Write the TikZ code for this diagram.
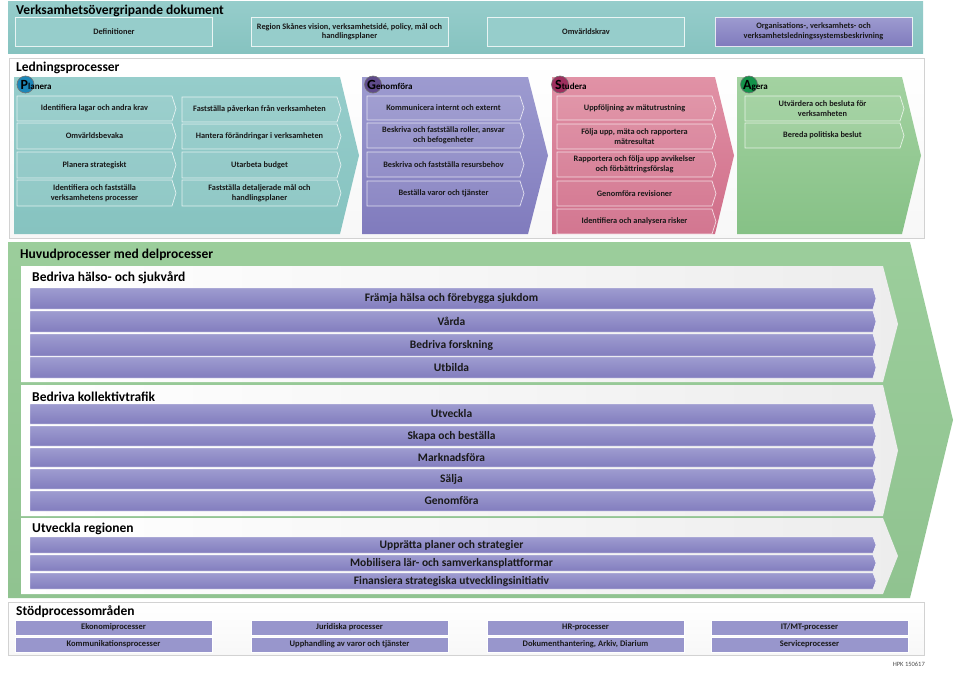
\documentclass[tikz,border=0pt]{standalone}
\usepackage{fontspec}
\setmainfont{Carlito}
\definecolor{teal1}{RGB}{150,205,203}
\definecolor{teal2}{RGB}{134,195,192}
\definecolor{pur1}{RGB}{157,155,208}
\definecolor{pur2}{RGB}{128,123,189}
\definecolor{pink1}{RGB}{225,146,166}
\definecolor{pink2}{RGB}{207,108,136}
\definecolor{grn1}{RGB}{163,210,161}
\definecolor{grn2}{RGB}{134,193,134}
\definecolor{hgrn}{RGB}{150,203,150}
\definecolor{barT}{RGB}{158,156,208}
\definecolor{barB}{RGB}{130,125,190}
\definecolor{stodc}{RGB}{152,150,204}
\definecolor{cP}{RGB}{28,135,184}
\definecolor{cG}{RGB}{95,75,139}
\definecolor{cS}{RGB}{158,47,94}
\definecolor{cA}{RGB}{20,147,74}
% name, path style, text style, x1, y1, x2, y2, tip, text
\newcommand\ArrBox[9]{%
  \path[#2] (#4,#5) -- ({#6-#8},#5) -- (#6,{(#5+#7)/2}) -- ({#6-#8},#7) -- (#4,#7) -- cycle;
  \node[#3] (#1) at ({(#4+#6-#8)/2},{(#5+#7)/2}) {#9};
}
\begin{document}
\begin{tikzpicture}[x=1pt,y=-1pt,
  sectitle/.style={font=\bfseries\fontsize{13.5}{15}\selectfont, anchor=west, inner sep=0},
  smalltxt/.style={font=\bfseries\fontsize{8.3}{9.6}\selectfont, align=center, inner sep=0, text=black!90},
  bartxt/.style={font=\bfseries\fontsize{11.5}{13}\selectfont, inner sep=0, text=black!90},
  inbox/.style={draw=white, draw opacity=0.75, line width=0.7pt, fill=white, fill opacity=0.07},
  bar/.style={top color=barT, bottom color=barB, draw=white, line width=0.4pt},
  topbox/.style={draw=white, draw opacity=0.8, line width=0.8pt, fill=teal1, minimum height=29pt,
    minimum width=197pt, inner sep=0, align=center, font=\bfseries\fontsize{8.3}{9.6}\selectfont, text=black!90},
  stodbox/.style={fill=stodc, draw=white, line width=0.5pt, minimum height=15pt, minimum width=197pt,
    inner sep=0, font=\bfseries\fontsize{8.5}{10}\selectfont, text=black!90},
  letcirc/.style={circle, minimum size=17pt, inner sep=0, draw=black!55, line width=0.6pt},
  lettitle/.style={anchor=base west, inner sep=0, font=\bfseries},
]
\useasboundingbox (0,0) rectangle (954,675);

% ---------- Verksamhetsövergripande dokument ----------
\fill[top color=teal1, bottom color=teal2] (8,1) rectangle (923,53);
\node[sectitle] (vo) at (16,11) {Verksamhetsövergripande dokument};
\node[topbox] (def) at (114,31.5) {Definitioner};
\node[topbox] (reg) at (349.5,31.5) {Region Skånes vision, verksamhetsidé, policy, mål och\\handlingsplaner};
\node[topbox] (omv) at (586,31.5) {Omvärldskrav};
\node[topbox, top color=pur1, bottom color=pur2] (org) at (813.5,31.5) {Organisations-, verksamhets- och\\verksamhetsledningssystemsbeskrivning};

% ---------- Ledningsprocesser ----------
\path[draw=gray!35, top color=white, bottom color=gray!6] (9,58) rectangle (924,238);
\node[sectitle] (lp) at (16,68) {Ledningsprocesser};

\path[top color=teal1, bottom color=teal2] (14,77) -- (340,77) -- (359,155.5) -- (340,234) -- (14,234) -- cycle;
\path[top color=pur1, bottom color=pur2] (362,77) -- (528,77) -- (548,155.5) -- (528,234) -- (362,234) -- cycle;
\path[top color=pink1, bottom color=pink2] (552,77) -- (715,77) -- (734,155.5) -- (715,234) -- (552,234) -- cycle;
\path[top color=grn1, bottom color=grn2] (737,77) -- (902,77) -- (921,155.5) -- (902,234) -- (737,234) -- cycle;

\node[letcirc, fill=cP] (pc) at (25.5,84.5) {};
\node[lettitle] (pt) at (20.5,89.5) {\fontsize{14}{14}\selectfont P\fontsize{9}{9}\selectfont lanera};
\node[letcirc, fill=cG] (gc) at (373,84.5) {};
\node[lettitle] (gt) at (367,89.5) {\fontsize{14}{14}\selectfont G\fontsize{9}{9}\selectfont enomföra};
\node[letcirc, fill=cS] (sc) at (560,84.5) {};
\node[lettitle] (st) at (555,89.5) {\fontsize{14}{14}\selectfont S\fontsize{9}{9}\selectfont tudera};
\node[letcirc, fill=cA] (ac) at (749,84.5) {};
\node[lettitle] (at) at (743,89.5) {\fontsize{14}{14}\selectfont A\fontsize{9}{9}\selectfont gera};

% Planera
\ArrBox{p1}{inbox}{smalltxt}{17}{96}{176}{121}{4}{Identifiera lagar och andra krav}
\ArrBox{p2}{inbox}{smalltxt}{17}{123}{176}{149}{4}{Omvärldsbevaka}
\ArrBox{p3}{inbox}{smalltxt}{17}{152}{176}{178}{4}{Planera strategiskt}
\ArrBox{p4}{inbox}{smalltxt}{17}{180}{176}{206}{4}{Identifiera och fastställa\\verksamhetens processer}
\ArrBox{p5}{inbox}{smalltxt}{182}{97}{341}{122}{4}{Fastställa påverkan från verksamheten}
\ArrBox{p6}{inbox}{smalltxt}{182}{124}{341}{149}{4}{Hantera förändringar i verksamheten}
\ArrBox{p7}{inbox}{smalltxt}{182}{152}{341}{178}{4}{Utarbeta budget}
\ArrBox{p8}{inbox}{smalltxt}{182}{180}{341}{206}{4}{Fastställa detaljerade mål och\\handlingsplaner}
% Genomföra
\ArrBox{g1}{inbox}{smalltxt}{367}{96}{524}{120}{4}{Kommunicera internt och externt}
\ArrBox{g2}{inbox}{smalltxt}{367}{123}{524}{148}{4}{Beskriva och fastställa roller, ansvar\\och befogenheter}
\ArrBox{g3}{inbox}{smalltxt}{367}{152}{524}{177}{4}{Beskriva och fastställa resursbehov}
\ArrBox{g4}{inbox}{smalltxt}{367}{181}{524}{206}{4}{Beställa varor och tjänster}
% Studera
\ArrBox{s1}{inbox}{smalltxt}{557}{96}{716}{120}{4}{Uppföljning av mätutrustning}
\ArrBox{s2}{inbox}{smalltxt}{557}{124}{716}{149}{4}{Följa upp, mäta och rapportera\\mätresultat}
\ArrBox{s3}{inbox}{smalltxt}{557}{152}{716}{177}{4}{Rapportera och följa upp avvikelser\\och förbättringsförslag}
\ArrBox{s4}{inbox}{smalltxt}{557}{181}{716}{206}{4}{Genomföra revisioner}
\ArrBox{s5}{inbox}{smalltxt}{557}{209}{716}{234}{4}{Identifiera och analysera risker}
% Agera
\ArrBox{a1}{inbox}{smalltxt}{745}{96}{904}{121}{4}{Utvärdera och besluta för\\verksamheten}
\ArrBox{a2}{inbox}{smalltxt}{745}{123}{904}{148}{4}{Bereda politiska beslut}

% ---------- Huvudprocesser ----------
\path[top color=hgrn!95!white, bottom color=hgrn!96!black] (8,242) -- (910,242) -- (953,420) -- (910,598) -- (8,598) -- cycle;
\node[sectitle] (hp) at (20,255) {Huvudprocesser med delprocesser};

\path[left color=white, middle color=white, right color=gray!14] (21,266) -- (883,266) -- (898,324) -- (883,382) -- (21,382) -- cycle;
\path[left color=white, middle color=white, right color=gray!14] (21,385) -- (883,385) -- (898,450.5) -- (883,516) -- (21,516) -- cycle;
\path[left color=white, middle color=white, right color=gray!14] (21,518) -- (883,518) -- (898,556) -- (883,594) -- (21,594) -- cycle;

\node[sectitle] (hs) at (32,278) {Bedriva hälso- och sjukvård};
\node[sectitle] (kt) at (32,397) {Bedriva kollektivtrafik};
\node[sectitle] (ur) at (32,529) {Utveckla regionen};

\ArrBox{b1}{bar}{bartxt}{30}{288}{876}{309}{3}{Främja hälsa och förebygga sjukdom}
\ArrBox{b2}{bar}{bartxt}{30}{311}{876}{332}{3}{Vårda}
\ArrBox{b3}{bar}{bartxt}{30}{334}{876}{356}{3}{Bedriva forskning}
\ArrBox{b4}{bar}{bartxt}{30}{357}{876}{378}{3}{Utbilda}

\ArrBox{k1}{bar}{bartxt}{30}{404}{876}{424}{3}{Utveckla}
\ArrBox{k2}{bar}{bartxt}{30}{426}{876}{446}{3}{Skapa och beställa}
\ArrBox{k3}{bar}{bartxt}{30}{448}{876}{467}{3}{Marknadsföra}
\ArrBox{k4}{bar}{bartxt}{30}{469}{876}{489}{3}{Sälja}
\ArrBox{k5}{bar}{bartxt}{30}{491}{876}{511}{3}{Genomföra}

\ArrBox{u1}{bar}{bartxt}{30}{537}{876}{553}{3}{Upprätta planer och strategier}
\ArrBox{u2}{bar}{bartxt}{30}{555}{876}{571}{3}{Mobilisera lär- och samverkansplattformar}
\ArrBox{u3}{bar}{bartxt}{30}{573}{876}{589}{3}{Finansiera strategiska utvecklingsinitiativ}

% ---------- Stödprocessområden ----------
\path[draw=gray!35, top color=white, bottom color=gray!6] (8,602) rectangle (924,655);
\node[sectitle] (sp) at (16,612) {Stödprocessområden};
\node[stodbox] (e1) at (113.5,627.5) {Ekonomiprocesser};
\node[stodbox] (e2) at (349.5,627.5) {Juridiska processer};
\node[stodbox] (e3) at (585.5,627.5) {HR-processer};
\node[stodbox] (e4) at (809.5,627.5) {IT/MT-processer};
\node[stodbox] (f1) at (113.5,644.5) {Kommunikationsprocesser};
\node[stodbox] (f2) at (349.5,644.5) {Upphandling av varor och tjänster};
\node[stodbox] (f3) at (585.5,644.5) {Dokumenthantering, Arkiv, Diarium};
\node[stodbox] (f4) at (809.5,644.5) {Serviceprocesser};

\node[anchor=east, inner sep=0, font=\fontsize{6.5}{8}\selectfont, text=black!70] (hpk) at (925,664) {HPK 150617};
\end{tikzpicture}
\end{document}
